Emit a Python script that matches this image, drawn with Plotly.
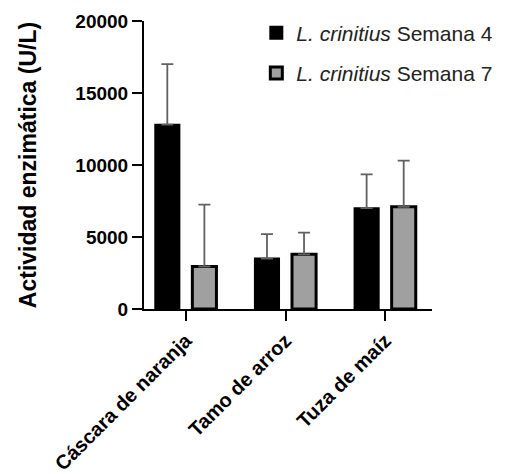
import plotly.graph_objects as go

categories = ["Cáscara de naranja", "Tamo de arroz", "Tuza de maíz"]
sem4_values = [12800, 3500, 7000]
sem4_err = [4200, 1700, 2350]
sem7_values = [2950, 3800, 7100]
sem7_err = [4300, 1500, 3200]
series_names = ["<i>L. crinitius</i> Semana 4", "<i>L. crinitius</i> Semana 7"]
y_ticks = [0, 5000, 10000, 15000, 20000]

FONT = "Liberation Sans, Arial, sans-serif"

fig = go.Figure()
fig.add_trace(go.Bar(
    x=categories, y=sem4_values, name=series_names[0], legendgroup="a",
    marker=dict(color="#000000", line=dict(color="#000000", width=2)),
    error_y=dict(type="data", array=sem4_err, symmetric=False,
                 arrayminus=[0, 0, 0], color="#606060", thickness=1.8, width=6),
))
fig.add_trace(go.Bar(
    x=categories, y=sem7_values, name=series_names[1], legendgroup="b",
    marker=dict(color="#a0a0a0", line=dict(color="#000000", width=3)),
    error_y=dict(type="data", array=sem7_err, symmetric=False,
                 arrayminus=[0, 0, 0], color="#606060", thickness=1.8, width=6),
))

# page body has an 8px margin, so the figure is sized/offset accordingly
fig.update_layout(
    width=514, height=466,
    margin=dict(l=136, r=90, t=13, b=165, autoexpand=False),
    paper_bgcolor="white", plot_bgcolor="white",
    barmode="group", bargap=0.256, bargroupgap=0.35,
    font=dict(family=FONT, color="black"),
    showlegend=True,
    legend=dict(x=0.39, y=0.99, xanchor="left", yanchor="top", yref="container",
                font=dict(family=FONT, size=21, color="#222"),
                bgcolor="rgba(0,0,0,0)", tracegroupgap=10, itemwidth=30),
)
fig.update_xaxes(
    range=[-0.42, 2.47], showline=True, linecolor="black", linewidth=2,
    ticks="outside", ticklen=10, tickwidth=2, tickcolor="black",
    tickangle=-45, showgrid=False, zeroline=False, automargin=False,
    ticklabeloverflow="allow",
    tickfont=dict(family=FONT, size=20, color="black", weight="bold"),
)
fig.update_yaxes(
    range=[0, 20000], tickvals=y_ticks, ticktext=[str(v) for v in y_ticks],
    showline=True, linecolor="black", linewidth=2,
    ticks="outside", ticklen=10, tickwidth=2, tickcolor="black",
    showgrid=False, zeroline=False, automargin=False,
    ticklabeloverflow="allow",
    tickfont=dict(family=FONT, size=19, color="black", weight="bold"),
    title=dict(text="Actividad enzimática (U/L)", standoff=32,
               font=dict(family=FONT, size=23, color="black", weight="bold")),
)

fig.write_html("out.html")
